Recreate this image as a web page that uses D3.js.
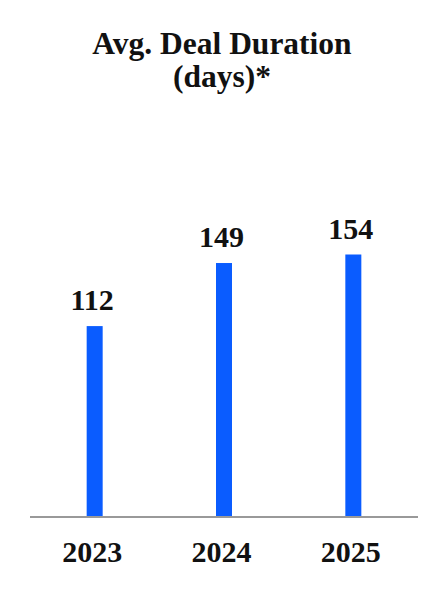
<!DOCTYPE html>
<html>
<head>
<meta charset="utf-8">
<script src="https://cdn.jsdelivr.net/npm/d3@7"></script>
<style>
  body { margin: 0; background: #fff; }
  svg text { font-family: 'Times New Roman', 'Liberation Serif', Times, serif; font-weight: bold; fill: #111; }
</style>
</head>
<body>
<svg width="448" height="600"></svg>
<script>
var years = ["2023", "2024", "2025"];
var durations = [112, 149, 154];
var titleLines = ["Avg. Deal Duration", "(days)*"];

var svg = d3.select("svg"),
    baseline = 517,
    barWidth = 16,
    labelShift = -2.5; // labels sit a touch left of the bars

var x = d3.scaleBand()
    .domain(years)
    .range([30, 418]);

// 0 sits on the baseline, about 1.705 px per day
var y = d3.scaleLinear()
    .domain([0, 154])
    .range([baseline, baseline - 262.5]);

svg.selectAll("text.title")
  .data(titleLines)
  .enter().append("text")
    .attr("class", "title")
    .attr("x", 222)
    .attr("y", function(d, i) { return 54 + i * 33; })
    .attr("text-anchor", "middle")
    .style("font-size", "31.5px")
    .text(function(d) { return d; });

svg.selectAll("rect.bar")
  .data(durations)
  .enter().append("rect")
    .attr("class", "bar")
    .attr("x", function(d, i) { return x(years[i]) + x.bandwidth() / 2 - barWidth / 2; })
    .attr("y", function(d) { return y(d); })
    .attr("width", barWidth)
    .attr("height", function(d) { return y(0) - y(d); })
    .style("fill", "#0a5cff");

svg.selectAll("text.value")
  .data(durations)
  .enter().append("text")
    .attr("class", "value")
    .attr("x", function(d, i) { return x(years[i]) + x.bandwidth() / 2 + labelShift; })
    .attr("y", function(d) { return y(d) - 16; })
    .attr("text-anchor", "middle")
    .style("font-size", "30px")
    .text(function(d) { return d; });

// axis: just the grey base line and the year labels
svg.append("line")
    .attr("x1", 30)
    .attr("x2", 418)
    .attr("y1", baseline)
    .attr("y2", baseline)
    .style("stroke", "#999")
    .style("stroke-width", 2);

svg.selectAll("text.year")
  .data(years)
  .enter().append("text")
    .attr("class", "year")
    .attr("x", function(d) { return x(d) + x.bandwidth() / 2 + labelShift; })
    .attr("y", 562)
    .attr("text-anchor", "middle")
    .style("font-size", "30px")
    .text(function(d) { return d; });
</script>
</body>
</html>
